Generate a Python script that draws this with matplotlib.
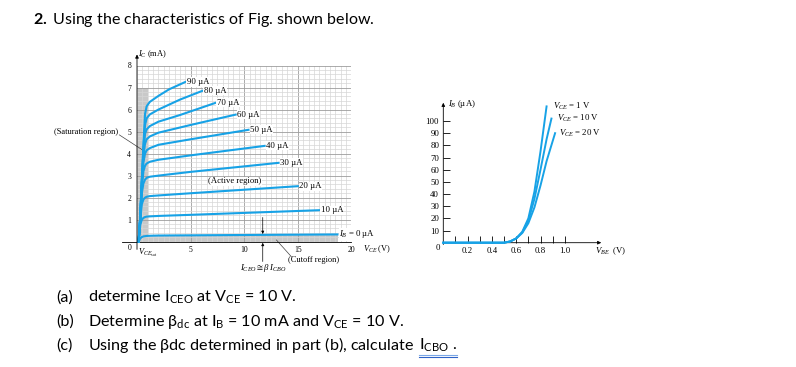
import numpy as np
import matplotlib
matplotlib.use("Agg")
import matplotlib.pyplot as plt
from matplotlib.patches import Rectangle
from matplotlib.lines import Line2D

plt.rcParams['mathtext.fontset'] = 'custom'
plt.rcParams['mathtext.rm'] = 'Lato'
plt.rcParams['mathtext.bf'] = 'Lato:bold'
plt.rcParams['mathtext.it'] = 'Liberation Serif:italic'
plt.rcParams['mathtext.sf'] = 'Liberation Serif'

# output characteristics (IC vs VCE), one row per base current
ib_levels = [0, 10, 20, 30, 40, 50, 60, 70, 80, 90]
vce_knee = [0.15, 0.3, 0.45, 0.6, 0.75, 0.9, 1.2, 2.0]
vce_mid = [5.0, 5.0, 5.0, 5.0, 5.0, 5.0, 5.0, 4.0, 4.0, 3.0]
vce_end = [18.7, 17.0, 15.0, 13.2, 11.9, 10.4, 9.2, 7.3, 6.1, 4.5]
ic_curves = [
    [0, 0.15, 0.21, 0.24, 0.25, 0.26, 0.27, 0.28, 0.29, 0.33],
    [0, 0.75, 1.00, 1.08, 1.12, 1.14, 1.15, 1.17, 1.22, 1.43],
    [0, 0.95, 1.70, 1.92, 2.00, 2.04, 2.07, 2.10, 2.20, 2.52],
    [0, 1.00, 2.20, 2.65, 2.82, 2.90, 2.95, 3.00, 3.17, 3.58],
    [0, 1.05, 2.50, 3.20, 3.45, 3.55, 3.63, 3.72, 3.92, 4.35],
    [0, 1.10, 2.60, 3.60, 4.00, 4.15, 4.25, 4.40, 4.65, 5.08],
    [0, 1.10, 2.70, 3.90, 4.45, 4.65, 4.78, 4.95, 5.30, 5.77],
    [0, 1.10, 2.70, 4.10, 4.90, 5.10, 5.25, 5.45, 5.75, 6.30],
    [0, 1.10, 2.80, 4.30, 5.30, 5.60, 5.78, 6.00, 6.45, 6.85],
    [0, 1.10, 2.80, 4.40, 5.80, 6.15, 6.35, 6.62, 6.92, 7.25],
]
vce_sat = 1.0
sat_top = 7.0

# input characteristics (IB vs VBE)
vbe_1 = [0, 0.5, 0.55, 0.6, 0.65, 0.7, 0.75, 0.8, 0.85]
ib_1 = [0, 0, 1, 3.5, 9, 20, 42, 75, 112]
vbe_10 = [0, 0.5, 0.55, 0.6, 0.65, 0.7, 0.75, 0.8, 0.85, 0.89]
ib_10 = [0, 0, 1, 3.5, 8.5, 18, 36, 60, 85, 102]
vbe_20 = [0, 0.5, 0.55, 0.6, 0.65, 0.7, 0.75, 0.8, 0.85, 0.92]
ib_20 = [0, 0, 1, 3.5, 8, 16, 29, 47, 67, 90]
vce_names = ['1 V', '10 V', '20 V']

W, H = 796, 367
blue = '#17a2e6'
shade = '#c9c9c9'
serif = 'Liberation Serif'

fig = plt.figure(figsize=(W / 100, H / 100), dpi=100)

# ---- left chart ----
ax1 = fig.add_axes([137 / W, 1 - 241.7 / H, 214.4 / W, 176.2 / H])
ax1.set_xlim(0, 20)
ax1.set_ylim(0, 8)
for s in ax1.spines.values():
    s.set_visible(False)
ax1.set_axisbelow('line')
ax1.set_xticks([5, 10, 15, 20])
ax1.set_xticks(np.arange(0, 20.01, 0.5), minor=True)
ax1.set_yticks(range(0, 9))
ax1.set_yticklabels([''] + [str(k) for k in range(1, 9)])
ax1.set_yticks(np.arange(0, 8.01, 0.2), minor=True)
ax1.grid(which='minor', color='#d6d6d6', lw=0.5)
ax1.grid(which='major', color='#9c9c9c', lw=0.6)
ax1.tick_params(which='both', length=0)
ax1.tick_params(axis='x', pad=3.2, labelsize=5.5)
ax1.tick_params(axis='y', pad=4.3, labelsize=5.5)
for lab in ax1.get_xticklabels() + ax1.get_yticklabels():
    lab.set_family(serif)

ax1.add_patch(Rectangle((0, 0), vce_sat, sat_top, color=shade, lw=0, zorder=1))
ax1.fill_between(vce_knee + [vce_mid[0], vce_end[0]], 0, ic_curves[0],
                 color=shade, lw=0, zorder=1)

for k, ib in enumerate(ib_levels):
    v = vce_knee + [vce_mid[k], vce_end[k]]
    ax1.plot(v, ic_curves[k], color=blue, lw=1.5, zorder=3, clip_on=False)
    if ib == 0:
        lbl = r'$\mathit{I_B}$ = 0 µA'
    else:
        lbl = f'{ib} µA'
    ax1.text(v[-1] + 0.15, ic_curves[k][-1], lbl, fontsize=6.3, family=serif,
             ha='left', va='center', zorder=4, clip_on=False,
             bbox=dict(fc='white', ec='none', pad=0.4))

ax1.annotate('', xy=(0, 8.5), xytext=(0, -0.35),
             arrowprops=dict(arrowstyle='-|>', lw=0.6, color='k', mutation_scale=5,
                             shrinkA=0, shrinkB=0), annotation_clip=False)
ax1.plot([-1.4, 20], [0, 0], color='k', lw=0.6, clip_on=False, zorder=2.5)
ax1.text(0.12, 8.53, r'$\mathit{I_C}$ (mA)', fontsize=6, family=serif,
         ha='left', va='center')
ax1.text(-0.65, -0.3, '0', fontsize=5.5, family=serif, ha='center', va='center')
ax1.text(0.05, -0.5, r'$\mathit{V_{CE_{\mathsf{sat}}}}$', fontsize=6, family=serif,
         ha='left', va='center')
ax1.text(21.1, -0.35, r'$\mathit{V_{CE}}$ (V)', fontsize=6, family=serif,
         ha='left', va='center')
ax1.text(-1.8, 5.0, '(Saturation region)', fontsize=6, family=serif,
         ha='right', va='center')
ax1.plot([-1.65, 0.59], [4.85, 4.14], color='#444444', lw=0.5, clip_on=False)
ax1.text(9.15, 2.74, '(Active region)', fontsize=6.2, family=serif,
         ha='center', va='center', zorder=4,
         bbox=dict(fc='white', ec='none', pad=0.3))
ax1.text(16.5, -0.83, '(Cutoff region)', fontsize=6, family=serif,
         ha='center', va='center')
ax1.plot([13.0, 14.4], [0.08, -0.68], color='#444444', lw=0.5, clip_on=False)
ax1.annotate('', xy=(11.73, 0.35), xytext=(11.73, 1.1),
             arrowprops=dict(arrowstyle='-|>', lw=0.5, color='k', mutation_scale=4,
                             shrinkA=0, shrinkB=0), annotation_clip=False)
ax1.annotate('', xy=(11.73, -0.05), xytext=(11.73, -0.9),
             arrowprops=dict(arrowstyle='-|>', lw=0.5, color='k', mutation_scale=4,
                             shrinkA=0, shrinkB=0), annotation_clip=False)
ax1.text(11.8, -1.18, r'$\mathit{I_{CEO}} \cong \beta\, \mathit{I_{CBO}}$',
         fontsize=6.3, family=serif, ha='center', va='center')

# ---- right chart ----
ax2 = fig.add_axes([443.3 / W, 1 - 242.7 / H, 1.3 * 121.5 / W, 115 * 1.217 / H])
ax2.set_xlim(0, 1.3)
ax2.set_ylim(0, 115)
for s in ax2.spines.values():
    s.set_visible(False)
ax2.set_yticks(range(10, 101, 10))
ax2.set_xticks(np.arange(0.1, 1.01, 0.1))
ax2.set_xticklabels(['' if k % 2 == 0 else f'{(k + 1) / 10:.1f}' for k in range(10)])
ax2.tick_params(direction='in', length=5, width=0.6, labelsize=6.3)
ax2.tick_params(axis='x', pad=3)
ax2.tick_params(axis='y', pad=3)
for lab in ax2.get_xticklabels() + ax2.get_yticklabels():
    lab.set_family(serif)

ax2.annotate('', xy=(0, 115), xytext=(0, -1.5),
             arrowprops=dict(arrowstyle='-|>', lw=0.6, color='k', mutation_scale=5,
                             shrinkA=0, shrinkB=0), annotation_clip=False)
ax2.annotate('', xy=(1.3, 0), xytext=(0, 0),
             arrowprops=dict(arrowstyle='-|>', lw=0.6, color='k', mutation_scale=5,
                             shrinkA=0, shrinkB=0), annotation_clip=False)

for vb, ib, name, dx in [(vbe_1, ib_1, vce_names[0], 0.05),
                         (vbe_10, ib_10, vce_names[1], 0.045),
                         (vbe_20, ib_20, vce_names[2], 0.03)]:
    ax2.plot(vb, ib, color=blue, lw=1.4, zorder=3, clip_on=False)
    ax2.text(vb[-1] + dx, ib[-1], r'$\mathit{V_{CE}}$ = ' + name, fontsize=6.3,
             family=serif, ha='left', va='center')

ax2.text(-0.041, -4.6, '0', fontsize=6.3, family=serif, ha='center', va='center')
ax2.text(0.04, 114, r'$\mathit{I_B}$ (µA)', fontsize=6.3, family=serif,
         ha='left', va='center')
ax2.text(1.245, -6.8, r'$\mathit{V_{BE}}$  (V)', fontsize=6.3, family=serif,
         ha='left', va='center')

# ---- question text ----
body = dict(fontsize=11.6, family='Lato', va='baseline')
fig.text(33 / W, 1 - 24.3 / H, r'$\mathbf{2.}$ Using the characteristics of Fig. shown below.',
         fontsize=11.5, family='Lato', va='baseline')
fig.text(56 / W, 1 - 302 / H, '(a)', **body)
fig.text(88 / W, 1 - 302 / H,
         r'determine $\mathrm{I_{CEO}}$ at $\mathrm{V_{CE}}$ = 10 V.', **body)
fig.text(56 / W, 1 - 326 / H, '(b)', **body)
fig.text(88 / W, 1 - 326 / H,
         r'Determine $\mathrm{\beta_{dc}}$ at $\mathrm{I_B}$ = 10 mA and $\mathrm{V_{CE}}$ = 10 V.',
         **body)
fig.text(56 / W, 1 - 350 / H, '(c)', **body)
t_c = fig.text(88 / W, 1 - 350 / H,
               r'Using the $\mathrm{\beta}$dc determined in part (b), calculate', **body)

renderer = fig.canvas.get_renderer()
ext = t_c.get_window_extent(renderer)
t_i = fig.text((ext.x1 + 5) / W, 1 - 350 / H, r'$\mathrm{I_{CBO}}$ .', **body)
ext_i = t_i.get_window_extent(renderer)
for y, c in [(355.2, '#7aa7e6'), (357.4, '#2f63c8')]:
    fig.add_artist(Line2D([ext_i.x0 / W, ext_i.x1 / W], [1 - y / H, 1 - y / H],
                          transform=fig.transFigure, color=c, lw=0.8))

fig.savefig('out.png', dpi=100)
